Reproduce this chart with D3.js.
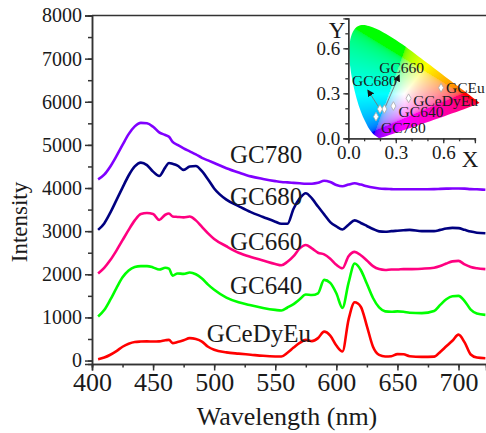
<!DOCTYPE html>
<html>
<head>
<meta charset="utf-8">
<script src="https://cdn.jsdelivr.net/npm/d3@7"></script>
<style>
  body { margin: 0; background: #fff; }
</style>
</head>
<body>
<svg id="chart" width="486" height="433"></svg>
<script>
// Wavelength grid shared by all spectra (nm)
const wavelengths = [405, 410, 415, 420, 425, 430, 435, 440, 445, 450, 455, 460, 463, 466, 470, 475, 480, 485, 490, 495,
  500, 510, 520, 530, 540, 550, 555, 560, 565, 570, 575, 580, 585, 590, 595, 600, 605, 610, 615, 620,
  625, 630, 635, 640, 645, 650, 655, 660, 670, 680, 685, 690, 695, 700, 705, 710, 715, 722];

const gc780 = [4200, 4310, 4500, 4740, 5000, 5250, 5430, 5510, 5500, 5420, 5290, 5230, 5190, 5070, 5000, 4920, 4850, 4780, 4700, 4640,
  4580, 4460, 4360, 4270, 4210, 4160, 4140, 4130, 4120, 4110, 4100, 4100, 4120, 4170, 4140, 4070, 4040, 4080, 4110, 4080,
  4040, 4010, 3990, 3980, 3975, 3970, 3970, 3970, 3970, 3975, 3980, 3985, 3990, 3990, 3985, 3975, 3970, 3960];

const gc680 = [3030, 3180, 3430, 3720, 4010, 4290, 4500, 4590, 4530, 4380, 4280, 4480, 4580, 4560, 4520, 4420, 4500, 4510, 4390, 4200,
  3990, 3730, 3580, 3440, 3330, 3220, 3170, 3170, 3520, 3760, 3880, 3760, 3570, 3390, 3210, 3110, 3040, 3150, 3250, 3190,
  3120, 3050, 2995, 2985, 3000, 3010, 3020, 3030, 3000, 3000, 3030, 3060, 3075, 3070, 3030, 2990, 2965, 2950];

const gc660 = [2020, 2150, 2330, 2550, 2790, 3030, 3250, 3400, 3420, 3400, 3260, 3380, 3410, 3340, 3330, 3320, 3340, 3250, 3100, 2950,
  2820, 2650, 2500, 2400, 2320, 2240, 2210, 2290, 2420, 2600, 2680, 2600, 2500, 2460, 2360, 2220, 2140, 2420, 2520, 2440,
  2320, 2190, 2120, 2100, 2110, 2110, 2120, 2120, 2130, 2150, 2190, 2250, 2300, 2310, 2230, 2170, 2140, 2120];

const gc640 = [1020, 1170, 1410, 1680, 1930, 2090, 2170, 2190, 2190, 2160, 2110, 2150, 2130, 1970, 2020, 2010, 2040, 2000, 1900, 1760,
  1640, 1460, 1350, 1280, 1220, 1175, 1160, 1230, 1310, 1420, 1530, 1520, 1560, 1870, 1800, 1560, 1220, 1800, 2250, 2100,
  1780, 1450, 1230, 1140, 1130, 1140, 1130, 1110, 1100, 1150, 1290, 1420, 1490, 1500, 1380, 1180, 1090, 1060];

const gcedyeu = [30, 70, 135, 220, 320, 390, 430, 440, 445, 440, 445, 470, 480, 405, 430, 470, 520, 500, 440, 320,
  250, 190, 160, 135, 110, 95, 93, 180, 300, 410, 480, 450, 520, 670, 580, 350, 210, 950, 1350, 1250,
  800, 320, 130, 95, 100, 150, 145, 100, 85, 90, 200, 330, 460, 600, 420, 140, 70, 55];

const seriesNames = ['GC780', 'GC680', 'GC660', 'GC640', 'GCeDyEu'];
const seriesValues = [gc780, gc680, gc660, gc640, gcedyeu];
const seriesColors = ['#8000ff', '#000080', '#ff0080', '#00ff00', '#ff0000'];
// label anchors in data units [nm, intensity]
const labelAnchors = [[513, 4580], [513, 3610], [513, 2570], [513, 1550], [494, 440]];

const xTicks = [400, 450, 500, 550, 600, 650, 700];
const yTicks = [0, 1000, 2000, 3000, 4000, 5000, 6000, 7000, 8000];

// CIE 1931 spectral locus (chromaticity x, y)
const locusX = [0.1741, 0.1733, 0.1726, 0.1714, 0.1689, 0.1644, 0.1566, 0.1440, 0.1355, 0.1241, 0.1096, 0.0913, 0.0687, 0.0454,
  0.0235, 0.0082, 0.0039, 0.0139, 0.0389, 0.0743, 0.1142, 0.1547, 0.1929, 0.2296, 0.2658, 0.3016, 0.3373, 0.3731,
  0.4087, 0.4441, 0.4788, 0.5125, 0.5448, 0.5752, 0.6029, 0.6270, 0.6658, 0.6915, 0.7079, 0.7190, 0.7260, 0.7320, 0.7347];
const locusY = [0.0050, 0.0048, 0.0048, 0.0051, 0.0069, 0.0109, 0.0177, 0.0297, 0.0399, 0.0578, 0.0868, 0.1327, 0.2007, 0.2950,
  0.4127, 0.5384, 0.6548, 0.7502, 0.8120, 0.8338, 0.8262, 0.8059, 0.7816, 0.7543, 0.7243, 0.6923, 0.6589, 0.6245,
  0.5896, 0.5547, 0.5202, 0.4866, 0.4544, 0.4242, 0.3965, 0.3725, 0.3340, 0.3083, 0.2920, 0.2809, 0.2740, 0.2680, 0.2653];

// CIE coordinates of the samples
const cieNames = ['GCEu', 'GCeDyEu', 'GC640', 'GC660', 'GC680', 'GC780'];
const cieX = [0.586, 0.381, 0.285, 0.228, 0.200, 0.175];
const cieY = [0.337, 0.267, 0.215, 0.195, 0.195, 0.144];
const cieLabelAt = [[0.617, 0.300], [0.411, 0.217], [0.318, 0.140], [0.196, 0.433], [0.023, 0.349], [0.207, 0.037]];
const cieArrowTo = { GC660: [0.322, 0.422], GC680: [0.123, 0.322] };
const cieTicks = [0, 0.3, 0.6];

const serif = '"Liberation Serif", "Times New Roman", serif';
const svg = d3.select('#chart');
const axisColor = '#333';

const x = d3.scaleLinear().domain([400, 722.5]).range([92, 486]);
const y = d3.scaleLinear().domain([-80, 8000]).range([364, 15.5]);

// spectra
const line = d3.line()
  .x(d => x(d[0]))
  .y(d => y(d[1]))
  .curve(d3.curveMonotoneX);

seriesValues.forEach((vals, i) => {
  svg.append('path')
    .datum(wavelengths.map((w, j) => [w, vals[j]]))
    .attr('fill', 'none')
    .attr('stroke', seriesColors[i])
    .attr('stroke-width', 2.6)
    .attr('stroke-linejoin', 'round')
    .attr('d', line);
  svg.append('text')
    .attr('x', x(labelAnchors[i][0]))
    .attr('y', y(labelAnchors[i][1]))
    .attr('font-size', 25)
    .text(seriesNames[i]);
});

// frame top
svg.append('line')
  .attr('x1', x(400)).attr('x2', x(722.5))
  .attr('y1', y(8000)).attr('y2', y(8000))
  .attr('stroke', axisColor).attr('stroke-width', 1.5);

// axes
const xMinor = d3.range(400, 725, 25);
const yMinor = d3.range(0, 8001, 500);

const gx = svg.append('g').attr('transform', `translate(0, ${y(-80)})`);
gx.call(d3.axisBottom(x).tickValues(xMinor).tickSize(3.5).tickFormat(''));
gx.call(g => g.append('g').call(d3.axisBottom(x).tickValues(xTicks).tickSize(6.5).tickPadding(2).tickFormat(d3.format('d'))));
gx.selectAll('text').attr('font-size', 26);

const gy = svg.append('g').attr('transform', `translate(${x(400)}, 0)`);
gy.call(d3.axisLeft(y).tickValues(yMinor).tickSize(4).tickFormat(''));
gy.call(g => g.append('g').call(d3.axisLeft(y).tickValues(yTicks).tickSize(7).tickPadding(3).tickFormat(d3.format('d'))));
gy.selectAll('text').attr('font-size', 20);

svg.selectAll('.domain, .tick line').attr('stroke', axisColor).attr('stroke-width', 1.5);

svg.append('text')
  .attr('x', 287).attr('y', 425)
  .attr('text-anchor', 'middle')
  .attr('font-size', 26)
  .text('Wavelength (nm)');

svg.append('text')
  .attr('transform', 'translate(27, 222) rotate(-90)')
  .attr('text-anchor', 'middle')
  .attr('font-size', 23)
  .text('Intensity');

// ---------- inset: CIE chromaticity diagram ----------
const ix = d3.scaleLinear().domain([0, 0.8]).range([348.3, 474.9]);
const iy = d3.scaleLinear().domain([0, 0.8]).range([138.3, 18.3]);
// the pasted gamut picture is stretched against the inset axes
const cx = d3.scaleLinear().domain([0, 0.8]).range([348.6, 348.6 + 0.8 * 178]);
const cy = d3.scaleLinear().domain([0, 0.8]).range([139, 139 - 0.8 * 136.7]);

const locus = locusX.map((v, i) => [v, locusY[i]]);
const locusPath = d3.line().x(d => cx(d[0])).y(d => cy(d[1])).curve(d3.curveCatmullRomClosed.alpha(0.5));

svg.append('clipPath').attr('id', 'gamut')
  .append('path').attr('d', locusPath(locus));

// colour the gamut pixel by pixel
const box = { x0: 345, y0: 18, x1: 486, y1: 141 };
const cw = box.x1 - box.x0;
const ch = box.y1 - box.y0;
const canvas = document.createElement('canvas');
canvas.width = cw;
canvas.height = ch;
const ctx = canvas.getContext('2d');
const img = ctx.createImageData(cw, ch);
const gamma = c => (c <= 0.0031308 ? 12.92 * c : 1.055 * Math.pow(c, 1 / 2.4) - 0.055);
for (let py = 0; py < ch; py++) {
  for (let px = 0; px < cw; px++) {
    const chx = cx.invert(box.x0 + px + 0.5);
    const chy = Math.max(cy.invert(box.y0 + py + 0.5), 0.004);
    const X = chx / chy;
    const Z = (1 - chx - chy) / chy;
    let r = 3.2406 * X - 1.5372 - 0.4986 * Z;
    let g = -0.9689 * X + 1.8758 + 0.0415 * Z;
    let b = 0.0557 * X - 0.2040 + 1.0570 * Z;
    r = Math.max(r, 0); g = Math.max(g, 0); b = Math.max(b, 0);
    const m = Math.max(r, g, b) || 1;
    const k = (py * cw + px) * 4;
    // soften a bit so the middle reads white like the pasted picture
    img.data[k] = 255 * gamma(Math.pow(r / m, 0.6));
    img.data[k + 1] = 255 * gamma(Math.pow(g / m, 0.6));
    img.data[k + 2] = 255 * gamma(Math.pow(b / m, 0.6));
    img.data[k + 3] = 255;
  }
}
ctx.putImageData(img, 0, 0);

svg.append('image')
  .attr('x', box.x0).attr('y', box.y0)
  .attr('width', cw).attr('height', ch)
  .attr('href', canvas.toDataURL())
  .attr('clip-path', 'url(#gamut)');

// inset axes
const ixMinor = d3.range(0, 0.81, 0.1);
const iax = svg.append('g').attr('transform', `translate(0, ${iy(0)})`);
iax.call(d3.axisBottom(ix).tickValues(ixMinor).tickSize(3).tickFormat(''));
iax.call(g => g.append('g').call(d3.axisBottom(ix).tickValues(cieTicks).tickSize(5).tickPadding(2).tickFormat(d3.format('.1f'))));
const iay = svg.append('g').attr('transform', `translate(${ix(0)}, 0)`);
iay.call(d3.axisLeft(iy).tickValues(ixMinor).tickSize(3).tickFormat(''));
iay.call(g => g.append('g').call(d3.axisLeft(iy).tickValues(cieTicks).tickSize(5).tickPadding(3).tickFormat(d3.format('.1f'))));
[iax, iay].forEach(a => {
  a.selectAll('.domain, .tick line').attr('stroke', axisColor).attr('stroke-width', 1.3);
  a.selectAll('text').attr('font-size', 19);
});

svg.append('text').attr('x', ix(0.77)).attr('y', 167).attr('text-anchor', 'middle').attr('font-size', 23).text('X');
svg.append('text').attr('x', 337).attr('y', 38).attr('text-anchor', 'middle').attr('font-size', 23).text('Y');

// arrows from points to labels
const defs = svg.append('defs');
defs.append('marker')
  .attr('id', 'arrow')
  .attr('viewBox', '0 0 10 10')
  .attr('refX', 9).attr('refY', 5)
  .attr('markerWidth', 7).attr('markerHeight', 7)
  .attr('markerUnits', 'userSpaceOnUse')
  .attr('orient', 'auto')
  .append('path').attr('d', 'M0,0 L10,5 L0,10 Z').attr('fill', '#111');

Object.keys(cieArrowTo).forEach(name => {
  const i = cieNames.indexOf(name);
  svg.append('line')
    .attr('x1', ix(cieX[i])).attr('y1', iy(cieY[i]))
    .attr('x2', ix(cieArrowTo[name][0])).attr('y2', iy(cieArrowTo[name][1]))
    .attr('stroke', '#777').attr('stroke-width', 0.9)
    .attr('marker-end', 'url(#arrow)');
});

const diamond = d3.symbol().type(d3.symbolDiamond).size(22);
cieNames.forEach((name, i) => {
  svg.append('path')
    .attr('d', diamond())
    .attr('transform', `translate(${ix(cieX[i])}, ${iy(cieY[i])})`)
    .attr('fill', '#fff')
    .attr('stroke', '#aaa')
    .attr('stroke-width', 0.8);
  svg.append('text')
    .attr('x', ix(cieLabelAt[i][0]))
    .attr('y', iy(cieLabelAt[i][1]))
    .attr('font-size', 15.5)
    .text(name);
});

// one serif face for every text, axes included
svg.selectAll('text')
  .style('font-family', serif)
  .attr('fill', '#1a1a1a');
</script>
</body>
</html>
